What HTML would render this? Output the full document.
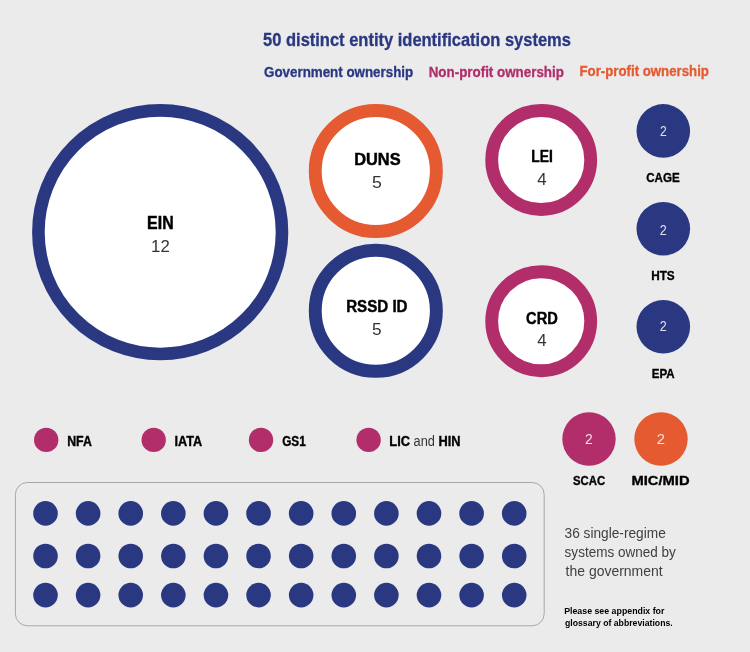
<!DOCTYPE html>
<html><head><meta charset="utf-8"><title>50 distinct entity identification systems</title><style>
html,body{margin:0;padding:0;background:#ebebeb;overflow:hidden;}
svg{display:block;font-family:"Liberation Sans",sans-serif;will-change:transform;}
</style></head><body>
<svg width="750" height="652" viewBox="0 0 750 652">
<rect width="750" height="652" fill="#ebebeb"/>
<circle cx="160.2" cy="232.2" r="121.80" fill="#fff" stroke="#2a3882" stroke-width="12.6"/>
<circle cx="375.8" cy="171" r="60.55" fill="#fff" stroke="#e55a30" stroke-width="12.9"/>
<circle cx="375.8" cy="310.75" r="60.55" fill="#fff" stroke="#2a3882" stroke-width="12.9"/>
<circle cx="541.2" cy="160" r="49.50" fill="#fff" stroke="#b12e6b" stroke-width="12.8"/>
<circle cx="541.2" cy="321.25" r="49.50" fill="#fff" stroke="#b12e6b" stroke-width="12.8"/>
<circle cx="663.30" cy="130.90" r="26.8" fill="#2a3882"/>
<circle cx="663.30" cy="228.75" r="26.8" fill="#2a3882"/>
<circle cx="663.30" cy="326.70" r="26.8" fill="#2a3882"/>
<circle cx="589.00" cy="439.00" r="26.7" fill="#b12e6b"/>
<circle cx="661.00" cy="439.00" r="26.7" fill="#e55a30"/>
<circle cx="46.20" cy="439.90" r="12.2" fill="#b12e6b"/>
<circle cx="153.70" cy="439.90" r="12.2" fill="#b12e6b"/>
<circle cx="261.00" cy="439.90" r="12.2" fill="#b12e6b"/>
<circle cx="368.60" cy="439.90" r="12.2" fill="#b12e6b"/>
<rect x="15.4" y="482.5" width="528.8" height="143.3" rx="12" fill="none" stroke="#a8a8a8" stroke-width="1"/>
<circle cx="45.50" cy="513.40" r="12.3" fill="#2a3882"/>
<circle cx="88.11" cy="513.40" r="12.3" fill="#2a3882"/>
<circle cx="130.72" cy="513.40" r="12.3" fill="#2a3882"/>
<circle cx="173.33" cy="513.40" r="12.3" fill="#2a3882"/>
<circle cx="215.94" cy="513.40" r="12.3" fill="#2a3882"/>
<circle cx="258.55" cy="513.40" r="12.3" fill="#2a3882"/>
<circle cx="301.16" cy="513.40" r="12.3" fill="#2a3882"/>
<circle cx="343.77" cy="513.40" r="12.3" fill="#2a3882"/>
<circle cx="386.38" cy="513.40" r="12.3" fill="#2a3882"/>
<circle cx="428.99" cy="513.40" r="12.3" fill="#2a3882"/>
<circle cx="471.60" cy="513.40" r="12.3" fill="#2a3882"/>
<circle cx="514.21" cy="513.40" r="12.3" fill="#2a3882"/>
<circle cx="45.50" cy="556.00" r="12.3" fill="#2a3882"/>
<circle cx="88.11" cy="556.00" r="12.3" fill="#2a3882"/>
<circle cx="130.72" cy="556.00" r="12.3" fill="#2a3882"/>
<circle cx="173.33" cy="556.00" r="12.3" fill="#2a3882"/>
<circle cx="215.94" cy="556.00" r="12.3" fill="#2a3882"/>
<circle cx="258.55" cy="556.00" r="12.3" fill="#2a3882"/>
<circle cx="301.16" cy="556.00" r="12.3" fill="#2a3882"/>
<circle cx="343.77" cy="556.00" r="12.3" fill="#2a3882"/>
<circle cx="386.38" cy="556.00" r="12.3" fill="#2a3882"/>
<circle cx="428.99" cy="556.00" r="12.3" fill="#2a3882"/>
<circle cx="471.60" cy="556.00" r="12.3" fill="#2a3882"/>
<circle cx="514.21" cy="556.00" r="12.3" fill="#2a3882"/>
<circle cx="45.50" cy="595.10" r="12.3" fill="#2a3882"/>
<circle cx="88.11" cy="595.10" r="12.3" fill="#2a3882"/>
<circle cx="130.72" cy="595.10" r="12.3" fill="#2a3882"/>
<circle cx="173.33" cy="595.10" r="12.3" fill="#2a3882"/>
<circle cx="215.94" cy="595.10" r="12.3" fill="#2a3882"/>
<circle cx="258.55" cy="595.10" r="12.3" fill="#2a3882"/>
<circle cx="301.16" cy="595.10" r="12.3" fill="#2a3882"/>
<circle cx="343.77" cy="595.10" r="12.3" fill="#2a3882"/>
<circle cx="386.38" cy="595.10" r="12.3" fill="#2a3882"/>
<circle cx="428.99" cy="595.10" r="12.3" fill="#2a3882"/>
<circle cx="471.60" cy="595.10" r="12.3" fill="#2a3882"/>
<circle cx="514.21" cy="595.10" r="12.3" fill="#2a3882"/>
<text x="263.07" y="45.9" font-size="17.5" font-weight="bold" fill="#2a3882" stroke="#2a3882" stroke-width="0.3" textLength="307.83" lengthAdjust="spacingAndGlyphs">50 distinct entity identification systems</text>
<text x="264.04" y="76.7" font-size="13.9" font-weight="bold" fill="#2a3882" stroke="#2a3882" stroke-width="0.3" textLength="149.16" lengthAdjust="spacingAndGlyphs">Government ownership</text>
<text x="428.70" y="76.5" font-size="13.9" font-weight="bold" fill="#b12e6b" stroke="#b12e6b" stroke-width="0.3" textLength="135.23" lengthAdjust="spacingAndGlyphs">Non-profit ownership</text>
<text x="579.52" y="76.2" font-size="13.9" font-weight="bold" fill="#e55a30" stroke="#e55a30" stroke-width="0.3" textLength="129.38" lengthAdjust="spacingAndGlyphs">For-profit ownership</text>
<text x="147.12" y="228.7" font-size="17.6" font-weight="bold" fill="#000" stroke="#000" stroke-width="0.45" textLength="26.52" lengthAdjust="spacingAndGlyphs">EIN</text>
<text x="151.06" y="251.5" font-size="17.3" font-weight="normal" fill="#333" textLength="18.69" lengthAdjust="spacingAndGlyphs">12</text>
<text x="354.15" y="165.3" font-size="17.4" font-weight="bold" fill="#000" stroke="#000" stroke-width="0.45" textLength="46.48" lengthAdjust="spacingAndGlyphs">DUNS</text>
<text x="372.00" y="188" font-size="17.3" font-weight="normal" fill="#333" textLength="9.87" lengthAdjust="spacingAndGlyphs">5</text>
<text x="346.21" y="312" font-size="17.2" font-weight="bold" fill="#000" stroke="#000" stroke-width="0.45" textLength="61.33" lengthAdjust="spacingAndGlyphs">RSSD ID</text>
<text x="372.03" y="334.8" font-size="17.3" font-weight="normal" fill="#333" textLength="9.61" lengthAdjust="spacingAndGlyphs">5</text>
<text x="531.36" y="162.4" font-size="17.4" font-weight="bold" fill="#000" stroke="#000" stroke-width="0.45" textLength="21.51" lengthAdjust="spacingAndGlyphs">LEI</text>
<text x="537.26" y="185.3" font-size="17.3" font-weight="normal" fill="#333" textLength="9.38" lengthAdjust="spacingAndGlyphs">4</text>
<text x="526.10" y="323.7" font-size="17.4" font-weight="bold" fill="#000" stroke="#000" stroke-width="0.45" textLength="31.71" lengthAdjust="spacingAndGlyphs">CRD</text>
<text x="537.26" y="346.3" font-size="17.3" font-weight="normal" fill="#333" textLength="9.38" lengthAdjust="spacingAndGlyphs">4</text>
<text x="646.20" y="181.7" font-size="13.5" font-weight="bold" fill="#000" stroke="#000" stroke-width="0.35" textLength="33.58" lengthAdjust="spacingAndGlyphs">CAGE</text>
<text x="651.16" y="279.6" font-size="13.3" font-weight="bold" fill="#000" stroke="#000" stroke-width="0.35" textLength="23.55" lengthAdjust="spacingAndGlyphs">HTS</text>
<text x="651.82" y="377.5" font-size="13.3" font-weight="bold" fill="#000" stroke="#000" stroke-width="0.35" textLength="22.81" lengthAdjust="spacingAndGlyphs">EPA</text>
<text x="67.17" y="445.5" font-size="14" font-weight="bold" fill="#000" stroke="#000" stroke-width="0.35" textLength="24.71" lengthAdjust="spacingAndGlyphs">NFA</text>
<text x="174.39" y="445.6" font-size="14" font-weight="bold" fill="#000" stroke="#000" stroke-width="0.35" textLength="27.75" lengthAdjust="spacingAndGlyphs">IATA</text>
<text x="282.18" y="445.6" font-size="14" font-weight="bold" fill="#000" stroke="#000" stroke-width="0.35" textLength="23.59" lengthAdjust="spacingAndGlyphs">GS1</text>
<text x="572.98" y="485.2" font-size="13.3" font-weight="bold" fill="#000" stroke="#000" stroke-width="0.35" textLength="32.17" lengthAdjust="spacingAndGlyphs">SCAC</text>
<text x="631.51" y="485.2" font-size="13.3" font-weight="bold" fill="#000" stroke="#000" stroke-width="0.35" textLength="58.07" lengthAdjust="spacingAndGlyphs">MIC/MID</text>
<text x="564.59" y="538.4" font-size="14.4" font-weight="normal" fill="#404040" textLength="101.20" lengthAdjust="spacingAndGlyphs">36 single-regime</text>
<text x="564.61" y="557.1" font-size="14.4" font-weight="normal" fill="#404040" textLength="111.18" lengthAdjust="spacingAndGlyphs">systems owned by</text>
<text x="565.58" y="576.1" font-size="14.4" font-weight="normal" fill="#404040" textLength="97.07" lengthAdjust="spacingAndGlyphs">the government</text>
<text x="564.14" y="614.3" font-size="9.8" font-weight="bold" fill="#000" textLength="100.31" lengthAdjust="spacingAndGlyphs">Please see appendix for</text>
<text x="565.00" y="626.3" font-size="9.8" font-weight="bold" fill="#000" textLength="107.71" lengthAdjust="spacingAndGlyphs">glossary of abbreviations.</text>
<text x="660.09" y="136" font-size="14.5" font-weight="normal" fill="#e0e0e6" textLength="6.78" lengthAdjust="spacingAndGlyphs">2</text>
<text x="659.63" y="234.9" font-size="14.5" font-weight="normal" fill="#e0e0e6" textLength="7.02" lengthAdjust="spacingAndGlyphs">2</text>
<text x="659.63" y="331" font-size="14.5" font-weight="normal" fill="#e0e0e6" textLength="7.02" lengthAdjust="spacingAndGlyphs">2</text>
<text x="584.96" y="444.1" font-size="14.5" font-weight="normal" fill="#f0dde6" textLength="7.74" lengthAdjust="spacingAndGlyphs">2</text>
<text x="656.70" y="444.1" font-size="14.5" font-weight="normal" fill="#f5e0d8" textLength="8.24" lengthAdjust="spacingAndGlyphs">2</text>
<text x="389.36" y="445.6" font-size="14" font-weight="bold" fill="#000" stroke="#000" stroke-width="0.35" textLength="71.12" lengthAdjust="spacingAndGlyphs">LIC<tspan font-weight="normal" fill="#333" stroke="none"> and </tspan>HIN</text>
</svg>
</body></html>
